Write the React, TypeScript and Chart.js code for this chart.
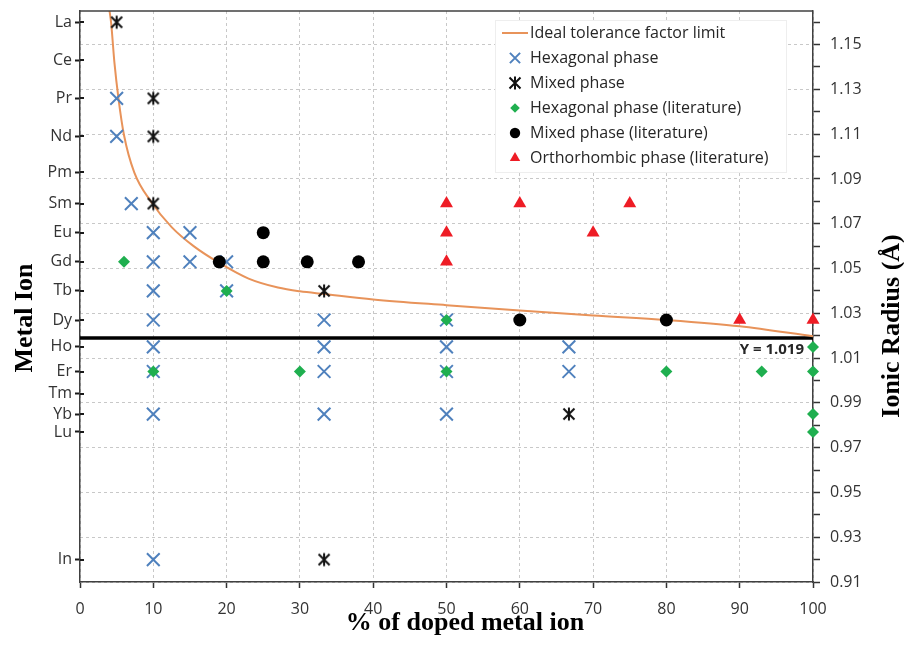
import React, { useEffect, useRef } from "react";
import { Chart, registerables } from "chart.js";
import { drawPoint } from "chart.js/helpers";

Chart.register(...registerables);

// ---------- data ----------
const ION_NAMES = ["La", "Ce", "Pr", "Nd", "Pm", "Sm", "Eu", "Gd", "Tb", "Dy", "Ho", "Er", "Tm", "Yb", "Lu", "In"];
const ION_RADII = [1.16, 1.143, 1.126, 1.109, 1.093, 1.079, 1.066, 1.053, 1.04, 1.027, 1.015, 1.004, 0.994, 0.985, 0.977, 0.92];
const RADIUS_TICKS = [0.91, 0.92, 0.93, 0.94, 0.95, 0.96, 0.97, 0.98, 0.99, 1.0, 1.01, 1.02, 1.03, 1.04, 1.05, 1.06, 1.07, 1.08, 1.09, 1.1, 1.11, 1.12, 1.13, 1.14, 1.15, 1.16];
const HOST_RADIUS = 1.019; // Y

const CURVE_X = [4.0, 4.25, 4.7, 5.25, 6.0, 7.4, 9.7, 12.5, 15.5, 19, 23, 27, 30, 33.3, 40, 50, 60, 70, 80, 90, 100];
const CURVE_R = [1.1657, 1.1596, 1.1418, 1.1259, 1.1096, 1.0929, 1.0798, 1.0685, 1.06, 1.0525, 1.0455, 1.0415, 1.0398, 1.0386, 1.0362, 1.0336, 1.0312, 1.029, 1.027, 1.0242, 1.0197];

const HEX_PHASE: [number, string][] = [
  [5, "Pr"], [5, "Nd"], [7, "Sm"], [10, "Eu"], [15, "Eu"], [10, "Gd"], [15, "Gd"], [20, "Gd"],
  [10, "Tb"], [20, "Tb"], [10, "Dy"], [33.3, "Dy"], [50, "Dy"], [10, "Ho"], [33.3, "Ho"], [50, "Ho"],
  [66.7, "Ho"], [10, "Er"], [33.3, "Er"], [50, "Er"], [66.7, "Er"], [10, "Yb"], [33.3, "Yb"], [50, "Yb"], [10, "In"],
];
const MIXED_PHASE: [number, string][] = [
  [5, "La"], [10, "Pr"], [10, "Nd"], [10, "Sm"], [33.3, "Tb"], [66.7, "Yb"], [33.3, "In"],
];
const HEX_LIT: [number, string][] = [
  [6, "Gd"], [20, "Tb"], [10, "Er"], [30, "Er"], [50, "Dy"], [50, "Er"], [80, "Er"], [93, "Er"],
  [100, "Er"], [100, "Ho"], [100, "Yb"], [100, "Lu"],
];
const MIXED_LIT: [number, string][] = [
  [19, "Gd"], [25, "Eu"], [25, "Gd"], [31, "Gd"], [38, "Gd"], [60, "Dy"], [80, "Dy"],
];
const ORTHO_LIT: [number, string][] = [
  [50, "Sm"], [60, "Sm"], [75, "Sm"], [50, "Eu"], [70, "Eu"], [50, "Gd"], [90, "Dy"], [100, "Dy"],
];

const LABELS = [
  "Ideal tolerance factor limit",
  "Hexagonal phase",
  "Mixed phase",
  "Hexagonal phase (literature)",
  "Mixed phase (literature)",
  "Orthorhombic phase (literature)",
];

// ---------- helpers ----------
const radiusOf = (ion: string) => ION_RADII[ION_NAMES.indexOf(ion)];
const toPoints = (arr: [number, string][]) => arr.map(([x, ion]) => ({ x, y: radiusOf(ion) }));
const isLabeled = (v: number) => Math.round(v * 100) % 2 === 1;

const FONT = "'Open Sans', 'DejaVu Sans', sans-serif";
const SERIF = "'Liberation Serif', 'DejaVu Serif', serif";
const TEXT = "#333333";

function makeStar(): HTMLCanvasElement {
  const c = document.createElement("canvas");
  c.width = 16;
  c.height = 16;
  const g = c.getContext("2d")!;
  g.strokeStyle = "#111111";
  g.lineWidth = 2;
  g.lineCap = "butt";
  g.beginPath();
  g.moveTo(2.5, 2.5); g.lineTo(13.5, 13.5);
  g.moveTo(13.5, 2.5); g.lineTo(2.5, 13.5);
  g.moveTo(8, 1.5); g.lineTo(8, 14.5);
  g.stroke();
  return c;
}

const noPadY = (w: number) => (s: any) => {
  s.width = w;
  s.paddingTop = 0;
  s.paddingBottom = 0;
};

const frameAndTextPlugin = {
  id: "frameAndText",
  afterDatasetsDraw(chart: any) {
    const { ctx, chartArea } = chart;
    const yScale = chart.scales.y;
    ctx.save();
    // top frame line
    ctx.strokeStyle = "#404040";
    ctx.lineWidth = 1.5;
    ctx.beginPath();
    ctx.moveTo(chartArea.left, chartArea.top);
    ctx.lineTo(chartArea.right, chartArea.top);
    ctx.stroke();

    // left-axis tick marks crossing the axis line (inner half)
    ctx.strokeStyle = "#1a1a1a";
    ctx.lineWidth = 2;
    ctx.beginPath();
    ION_RADII.forEach((r) => {
      const py = Math.round(yScale.getPixelForValue(r));
      ctx.moveTo(chartArea.left, py);
      ctx.lineTo(chartArea.left + 4, py);
    });
    ctx.stroke();

    // Y = 1.019 label
    const yPix = yScale.getPixelForValue(HOST_RADIUS);
    ctx.fillStyle = "#262626";
    ctx.font = `bold 15px ${FONT}`;
    ctx.textAlign = "right";
    ctx.textBaseline = "middle";
    ctx.fillText("Y = " + HOST_RADIUS.toFixed(3), chartArea.right - 9, yPix + 12);

    // legend box
    const bx = chartArea.right - 318;
    const by = chartArea.top + 9;
    ctx.fillStyle = "#ffffff";
    ctx.fillRect(bx, by, 291, 152);
    ctx.strokeStyle = "#eeeeee";
    ctx.lineWidth = 1;
    ctx.strokeRect(bx + 0.5, by + 0.5, 291, 152);

    const symX = chartArea.right - 298;
    const textX = chartArea.right - 283;
    ctx.font = `16px ${FONT}`;
    ctx.textAlign = "left";
    ctx.textBaseline = "middle";
    chart.data.datasets.forEach((ds: any) => {
      if (ds.legendRow === undefined) return;
      const ry = chartArea.top + 22 + ds.legendRow * 25;
      if (ds.legendRow === 0) {
        ctx.strokeStyle = ds.borderColor;
        ctx.lineWidth = 2;
        ctx.beginPath();
        ctx.moveTo(symX - 13, ry);
        ctx.lineTo(symX + 13, ry);
        ctx.stroke();
      } else {
        ctx.save();
        ctx.fillStyle = ds.backgroundColor;
        ctx.strokeStyle = ds.borderColor;
        ctx.lineWidth = ds.borderWidth;
        drawPoint(ctx, {
          pointStyle: ds.pointStyle,
          rotation: 0,
          radius: ds.pointRadius * 0.8,
          borderWidth: ds.borderWidth,
        } as any, symX, ry);
        ctx.restore();
      }
      ctx.fillStyle = "#262626";
      ctx.fillText(ds.label, textX, ry);
    });
    ctx.restore();
  },
  afterDraw(chart: any) {
    const { ctx, chartArea } = chart;
    ctx.save();
    ctx.fillStyle = "#000000";
    ctx.font = `bold 26px ${SERIF}`;
    ctx.textAlign = "center";
    ctx.textBaseline = "alphabetic";
    // bottom title
    ctx.fillText("% of doped metal ion", 465, chartArea.bottom + 48);
    // left title
    ctx.save();
    ctx.translate(32, 318);
    ctx.rotate(-Math.PI / 2);
    ctx.fillText("Metal Ion", 0, 0);
    ctx.restore();
    // right title
    ctx.save();
    ctx.translate(899, 326);
    ctx.rotate(-Math.PI / 2);
    ctx.fillText("Ionic Radius (Å)", 0, 0);
    ctx.restore();
    ctx.restore();
  },
};

export default function App() {
  const ref = useRef<HTMLCanvasElement | null>(null);

  useEffect(() => {
    if (!ref.current) return;
    const star = makeStar();
    const chart = new Chart(ref.current, {
      type: "scatter",
      data: {
        datasets: [
          {
            type: "line",
            label: LABELS[0],
            data: CURVE_X.map((x, i) => ({ x, y: CURVE_R[i] })),
            borderColor: "#E8935A",
            backgroundColor: "#E8935A",
            borderWidth: 2,
            pointRadius: 0,
            cubicInterpolationMode: "monotone",
            order: 8,
            legendRow: 0,
          } as any,
          {
            label: LABELS[1],
            data: toPoints(HEX_PHASE),
            pointStyle: "crossRot",
            pointRadius: 9,
            borderColor: "#4F81BD",
            backgroundColor: "#4F81BD",
            borderWidth: 2,
            order: 4,
            clip: false,
            legendRow: 1,
          } as any,
          {
            label: LABELS[2],
            data: toPoints(MIXED_PHASE),
            pointStyle: star,
            pointRadius: 8,
            borderColor: "#111111",
            backgroundColor: "#111111",
            borderWidth: 2,
            order: 3,
            clip: false,
            legendRow: 2,
          } as any,
          {
            label: LABELS[3],
            data: toPoints(HEX_LIT),
            pointStyle: "rectRot",
            pointRadius: 6,
            borderColor: "#1FAF4F",
            backgroundColor: "#1FAF4F",
            borderWidth: 0,
            order: 1,
            clip: false,
            legendRow: 3,
          } as any,
          {
            label: LABELS[4],
            data: toPoints(MIXED_LIT),
            pointStyle: "circle",
            pointRadius: 6.5,
            borderColor: "#000000",
            backgroundColor: "#000000",
            borderWidth: 0,
            order: 2,
            clip: false,
            legendRow: 4,
          } as any,
          {
            label: LABELS[5],
            data: toPoints(ORTHO_LIT),
            pointStyle: "triangle",
            pointRadius: 7.5,
            borderColor: "#EE1C25",
            backgroundColor: "#EE1C25",
            borderWidth: 0,
            order: 2,
            clip: false,
            legendRow: 5,
          } as any,
          {
            type: "line",
            label: "Y",
            data: [{ x: 0, y: HOST_RADIUS }, { x: 100, y: HOST_RADIUS }],
            borderColor: "#000000",
            borderWidth: 3.5,
            pointRadius: 0,
            order: 9,
          } as any,
        ],
      },
      options: {
        responsive: false,
        animation: false,
        events: [],
        layout: { padding: { top: 7, left: 0, right: 0, bottom: 0 } },
        plugins: {
          legend: { display: false },
          tooltip: { enabled: false },
          title: { display: false },
        },
        scales: {
          x: {
            type: "linear",
            min: 0,
            max: 100,
            ticks: { stepSize: 10, color: TEXT, font: { family: FONT, size: 16 }, padding: 12 },
            grid: { color: "#c8c8c8", lineWidth: 1, tickColor: "#333333", tickLength: 6, tickWidth: 1.5, tickBorderDash: [] },
            border: { color: "#404040", width: 1.5, dash: [3, 3] },
            afterFit: (s: any) => {
              s.height = 73;
              s.paddingLeft = 0;
              s.paddingRight = 0;
            },
          },
          y: {
            type: "linear",
            position: "left",
            min: 0.91,
            max: 1.165,
            afterBuildTicks: (s: any) => { s.ticks = ION_RADII.map((v) => ({ value: v })); },
            ticks: {
              autoSkip: false,
              color: TEXT,
              font: { family: FONT, size: 16 },
              padding: 3,
              callback: (_v: any, i: number) => ION_NAMES[i],
            },
            grid: { drawOnChartArea: false, tickLength: 5, tickColor: "#1a1a1a", tickWidth: 2 },
            border: { color: "#404040", width: 1.5 },
            afterFit: noPadY(80),
          },
          y2: {
            type: "linear",
            position: "right",
            min: 0.91,
            max: 1.165,
            afterBuildTicks: (s: any) => { s.ticks = RADIUS_TICKS.map((v) => ({ value: v })); },
            ticks: {
              autoSkip: false,
              color: TEXT,
              font: { family: FONT, size: 16 },
              padding: 10,
              callback: (v: any) => (isLabeled(Number(v)) ? Number(v).toFixed(2) : ""),
            },
            grid: {
              color: (c: any) => (c.tick && isLabeled(c.tick.value) ? "#c8c8c8" : "rgba(0,0,0,0)"),
              tickColor: "#333333",
              tickLength: 7,
              tickWidth: 1.5,
              tickBorderDash: [],
            },
            border: { color: "#404040", width: 1.5, dash: [3, 3] },
            afterFit: noPadY(91),
          },
        },
      } as any,
      plugins: [frameAndTextPlugin],
    });
    return () => chart.destroy();
  }, []);

  return (
    <div style={{ position: "absolute", left: 0, top: 0, width: 904, height: 655, background: "#fff" }}>
      <canvas ref={ref} width={904} height={655} style={{ width: 904, height: 655, display: "block" }} />
    </div>
  );
}
